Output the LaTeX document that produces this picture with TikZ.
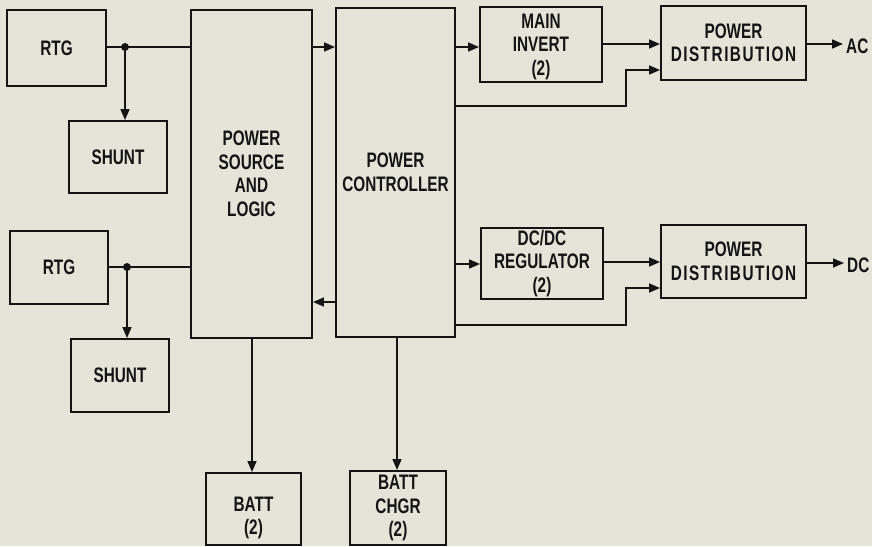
\documentclass[tikz,border=0pt]{standalone}
\usepackage{fontspec}
\setmainfont{Liberation Sans}[FakeStretch=0.73, BoldFont={Liberation Sans Bold}]
\usetikzlibrary{arrows.meta,calc}
\definecolor{paper}{RGB}{229,228,217}
\definecolor{ink}{RGB}{20,20,20}
\newcommand{\spaced}[1]{{\addfontfeature{LetterSpace=7}#1}}
\tikzset{
  blk/.style={draw=ink, line width=1.9pt, align=center, inner sep=0pt, text=ink,
    font=\fontsize{21}{23.5}\selectfont\bfseries},
  lbl/.style={align=center, inner sep=0pt, text=ink, font=\fontsize{21}{23.5}\selectfont\bfseries},
  conn/.style={draw=ink, line width=1.6pt},
  arr/.style={conn, -{Triangle[length=11pt,width=9pt]}},
}
\begin{document}
\begin{tikzpicture}[x=1pt,y=-1pt]
\fill[paper] (0,0) rectangle (872,546);
\useasboundingbox (0,0) rectangle (872,546);
% boxes
\node[blk, minimum width=99pt, minimum height=76pt] (rtgA) at (56.5,48) {RTG};
\node[blk, minimum width=98pt, minimum height=72pt] (shA) at (118,157) {SHUNT};
\node[blk, minimum width=121pt, minimum height=328pt] (psl) at (251.5,174) {POWER\\SOURCE\\AND\\LOGIC};
\node[blk, minimum width=119pt, minimum height=329pt] (pc) at (395.5,172.5) {POWER\\CONTROLLER};
\node[blk, minimum width=122pt, minimum height=75pt] (mi) at (541,44.5) {};
\node[lbl] (miT) at (541,46.5) {MAIN\\INVERT\\(2)};
\node[blk, minimum width=145pt, minimum height=74pt] (pdA) at (733.5,43) {POWER\\\spaced{DISTRIBUTION}};
\node[blk, minimum width=98pt, minimum height=73pt] (rtgB) at (59,267.5) {RTG};
\node[blk, minimum width=98pt, minimum height=73pt] (shB) at (120,375.5) {SHUNT};
\node[blk, minimum width=122pt, minimum height=71pt] (dcr) at (542,263.5) {DC/DC\\REGULATOR\\(2)};
\node[blk, minimum width=145pt, minimum height=73pt] (pdB) at (733.5,261.5) {POWER\\\spaced{DISTRIBUTION}};
\node[blk, minimum width=95pt, minimum height=72pt] (batt) at (253.5,509) {};
\node[lbl] (battT) at (253.5,518) {BATT\\(2)};
\node[blk, minimum width=96pt, minimum height=74pt] (chg) at (398,508) {BATT\\CHGR\\(2)};
% junctions
\coordinate (jA) at (125,47);
\coordinate (jB) at (127,267);
\fill[ink] (jA) circle (4pt);
\fill[ink] (jB) circle (4pt);
% connectors
\draw[conn] (rtgA.east |- jA) -- (jA) -- (psl.west |- jA);
\draw[arr] (jA) -- (jA |- shA.north);
\draw[conn] (rtgB.east |- jB) -- (jB) -- (psl.west |- jB);
\draw[arr] (jB) -- (jB |- shB.north);
\draw[arr] (psl.east |- 0,47) -- (pc.west |- 0,47);
\draw[arr] (pc.east |- 0,47) -- (mi.west |- 0,47);
\draw[arr] (mi.east |- 0,44) -- (pdA.west |- 0,44);
\draw[arr] (pc.east |- 0,106) -| (626,70) -- (pdA.west |- 0,70);
\coordinate (acEnd) at (843,44);
\draw[arr] (pdA.east |- acEnd) -- (acEnd);
\node[lbl, anchor=west] (ac) at (846,46) {AC};
\draw[arr] (pc.west |- 0,302) -- (psl.east |- 0,302);
\draw[arr] (pc.east |- 0,264) -- (dcr.west |- 0,264);
\draw[arr] (dcr.east |- 0,262) -- (pdB.west |- 0,262);
\draw[arr] (pc.east |- 0,325) -| (626,288) -- (pdB.west |- 0,288);
\coordinate (dcEnd) at (844,263);
\draw[arr] (pdB.east |- dcEnd) -- (dcEnd);
\node[lbl, anchor=west] (dc) at (847,265) {DC};
\draw[arr] (psl.south -| 252,0) -- (batt.north -| 252,0);
\draw[arr] (pc.south -| 397,0) -- (chg.north -| 397,0);
\end{tikzpicture}
\end{document}
